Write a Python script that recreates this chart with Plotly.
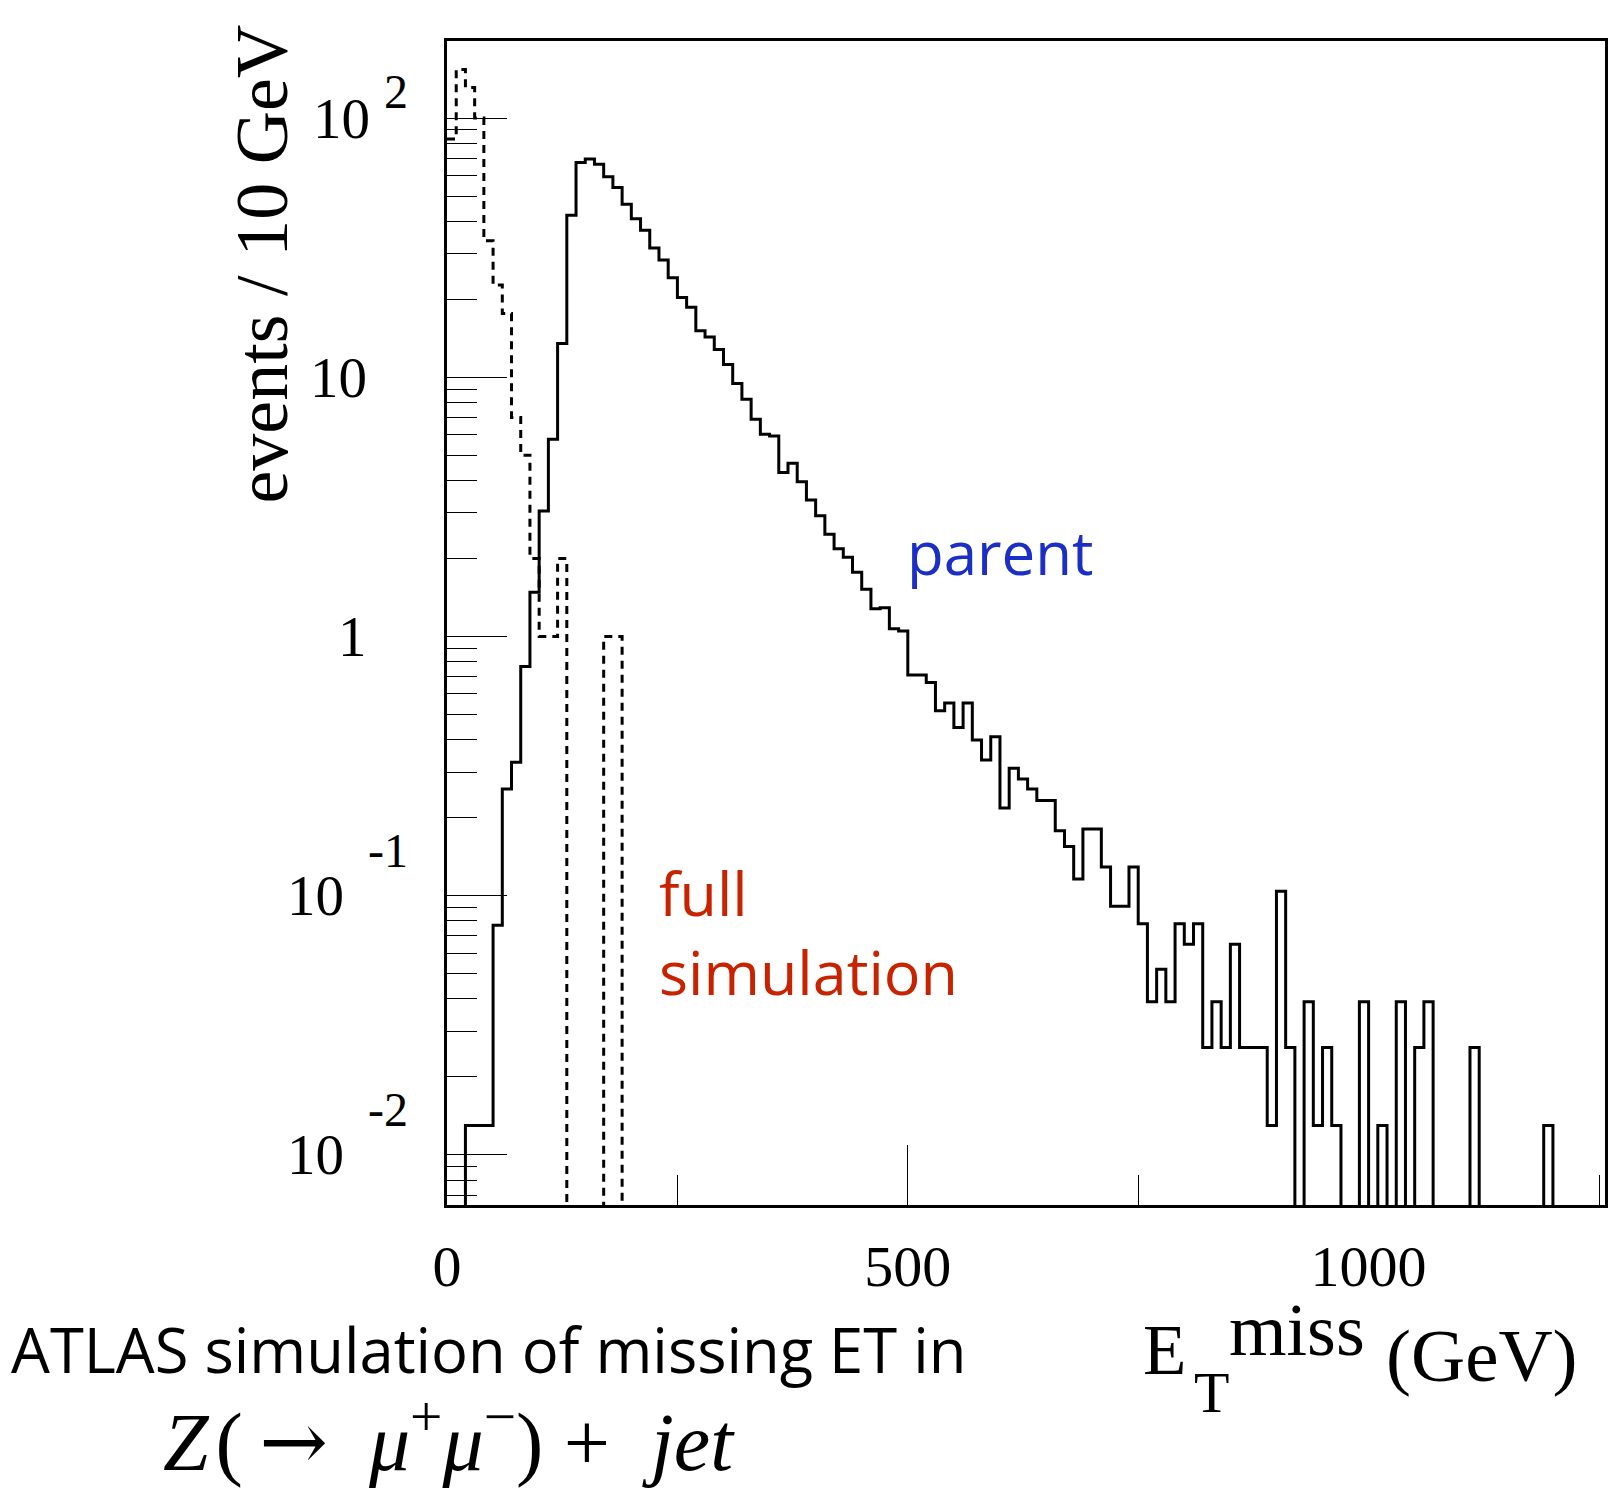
import math
import plotly.graph_objects as go

# ---------------- data ----------------
bin_edges = list(range(0, 1260, 10))  # 10 GeV bins, 0..1250

parent_values = [
    0, 0, 0.013, 0.013, 0.013, 0.077, 0.258, 0.327, 0.766, 1.48,
    3.05, 5.77, 13.5, 42.2, 67.3, 69.4, 66.3, 59.4, 53.9, 46.5,
    40.9, 36.9, 31.5, 28.3, 24.2, 20.3, 18.6, 15.1, 14.3, 12.8,
    11.2, 9.46, 8.23, 6.89, 6.03, 5.94, 4.29, 4.66, 3.95, 3.36,
    2.92, 2.48, 2.18, 2.02, 1.77, 1.52, 1.28, 1.29, 1.07, 1.05,
    0.711, 0.711, 0.665, 0.517, 0.554, 0.446, 0.554, 0.399, 0.334, 0.410,
    0.218, 0.310, 0.282, 0.258, 0.233, 0.233, 0.178, 0.155, 0.116, 0.181,
    0.181, 0.129, 0.091, 0.091, 0.129, 0.078, 0.039, 0.052, 0.039, 0.078,
    0.065, 0.078, 0.026, 0.039, 0.026, 0.065, 0.026, 0.026, 0.026, 0.013,
    0.104, 0.026, 0, 0.039, 0.013, 0.026, 0.013, 0, 0, 0.039,
    0, 0.013, 0, 0.039, 0, 0.026, 0.039, 0, 0, 0,
    0, 0.026, 0, 0, 0, 0, 0, 0, 0, 0.013,
    0, 0, 0, 0, 0,
]

fullsim_values = [
    83, 154, 131, 100, 33.6, 22.7, 17.6, 7.0, 5.0, 2.0,
    1.0, 1.0, 2.0, 0, 0, 0, 0, 1.0, 1.0,
] + [0] * 106

y_tick_values = [0.01, 0.1, 1, 10, 100]
y_tick_base = ["10", "10", "1", "10", "10"]
y_tick_exp = ["-2", "-1", "", "", "2"]
y_minor_digits = [2, 3, 4, 5, 6, 7, 8, 9]
y_decades = [-3, -2, -1, 0, 1, 2]

x_tick_values = [0, 500, 1000]
x_tick_labels = ["0", "500", "1000"]
x_minor_values = [250, 750, 1250]

# ---------------- layout geometry ----------------
FW, FH = 1610, 1488
# plot frame in page pixels
L, R, T, B = 447, 1608, 41, 1205
X_RANGE = [0, 1256.5]
Y_RANGE = [-2.193, 2.297]
FLOOR = 1e-4  # empty bins drop below the axis

SERIF = "Liberation Serif, Times New Roman, serif"
SANS = "Open Sans, Noto Sans, sans-serif"


def px(xp):
    return (xp - L) / (R - L)


def py(yp):
    return 1 - (yp - T) / (B - T)


def step_y(vals):
    return [v if v > 0 else FLOOR for v in vals] + [FLOOR]


fig = go.Figure()
fig.add_trace(go.Scatter(
    x=bin_edges, y=step_y(fullsim_values), mode="lines",
    line=dict(shape="hv", color="black", width=3, dash="8px,6px"),
    hoverinfo="skip", showlegend=False,
))
fig.add_trace(go.Scatter(
    x=bin_edges, y=step_y(parent_values), mode="lines",
    line=dict(shape="hv", color="black", width=3),
    hoverinfo="skip", showlegend=False,
))

minor_y = [d * 10 ** k for k in y_decades for d in y_minor_digits]

fig.update_layout(
    width=FW, height=FH,
    margin=dict(l=L, r=FW - R, t=T, b=FH - B, pad=0),
    paper_bgcolor="white", plot_bgcolor="white",
    showlegend=False,
    xaxis=dict(
        range=X_RANGE, showgrid=False, zeroline=False,
        showline=True, linecolor="black", linewidth=3, mirror=True,
        tickmode="array", tickvals=x_tick_values, ticktext=x_tick_labels,
        ticks="inside", ticklen=60, tickwidth=1.3, tickcolor="black",
        minor=dict(tickmode="array", tickvals=x_minor_values, ticks="inside",
                   ticklen=30, tickwidth=1.3, tickcolor="black"),
        tickfont=dict(family=SERIF, size=58, color="black"),
        ticklabelstandoff=8,
    ),
    yaxis=dict(
        type="log", range=Y_RANGE, showgrid=False, zeroline=False,
        showline=True, linecolor="black", linewidth=3, mirror=True,
        tickmode="array", tickvals=y_tick_values,
        ticks="inside", ticklen=60, tickwidth=1.3, tickcolor="black",
        minor=dict(tickmode="array", tickvals=minor_y, ticks="inside",
                   ticklen=30, tickwidth=1.3, tickcolor="black"),
        showticklabels=False,
    ),
)

ann = []
# y tick labels (ROOT style: base plus detached exponent)
EXP_SIZE = 48
EXP_RIGHT = 410
for v, base, ex in zip(y_tick_values, y_tick_base, y_tick_exp):
    yl = math.log10(v)
    if ex:
        neg = ex.startswith("-")
        ann.append(dict(text=ex, xref="paper", yref="y", x=px(EXP_RIGHT), y=yl,
                        xanchor="right", yanchor="middle",
                        yshift=45 if neg else 27,
                        showarrow=False,
                        font=dict(family=SERIF, size=EXP_SIZE, color="black")))
        base_right = EXP_RIGHT - (64 if neg else 38)
    else:
        base_right = 369
    ann.append(dict(text=base, xref="paper", yref="y", x=px(base_right), y=yl,
                    xanchor="right", yanchor="middle", showarrow=False,
                    font=dict(family=SERIF, size=57, color="black")))

# y axis title
ann.append(dict(text="events / 10 GeV", xref="paper", yref="paper",
                x=px(262), y=py(264), textangle=-90,
                xanchor="center", yanchor="middle", showarrow=False,
                font=dict(family=SERIF, size=74, color="black")))

# x axis title pieces
ann.append(dict(text="E", xref="paper", yref="paper", x=px(1143), y=py(1350),
                xanchor="left", yanchor="middle", showarrow=False,
                font=dict(family=SERIF, size=71, color="black")))
ann.append(dict(text="T", xref="paper", yref="paper", x=px(1194), y=py(1392),
                xanchor="left", yanchor="middle", showarrow=False,
                font=dict(family=SERIF, size=58, color="black")))
ann.append(dict(text="miss", xref="paper", yref="paper", x=px(1229), y=py(1330),
                xanchor="left", yanchor="middle", showarrow=False,
                font=dict(family=SERIF, size=74, color="black")))
ann.append(dict(text="(GeV)", xref="paper", yref="paper", x=px(1386), y=py(1355),
                xanchor="left", yanchor="middle", showarrow=False,
                font=dict(family=SERIF, size=75, color="black")))

# in-plot labels
ann.append(dict(text="parent", xref="paper", yref="paper", x=px(906), y=py(552),
                xanchor="left", yanchor="middle", showarrow=False,
                font=dict(family=SANS, size=60, color="#1b2ec6")))
ann.append(dict(text="full<br>simulation", xref="paper", yref="paper",
                x=px(658), y=py(849), align="left",
                xanchor="left", yanchor="top", showarrow=False,
                font=dict(family=SANS, size=61, color="#c82300")))

# caption under the plot
ann.append(dict(text="ATLAS simulation of missing ET in", xref="paper", yref="paper",
                x=px(9), y=py(1349), xanchor="left", yanchor="middle", showarrow=False,
                borderpad=0,
                font=dict(family=SANS, size=61.5, color="black")))
formula = ("<i>Z</i>\u200a(\u2009<span style='font-family:DejaVu Serif'>\u2192</span>\u2002"
           "<i>μ</i><sup>+</sup><i>μ</i><sup>\u2212</sup>)\u2005+\u2002<i>jet</i>")
ann.append(dict(text=formula,
                xref="paper", yref="paper", x=px(449), y=py(1437),
                xanchor="center", yanchor="middle", showarrow=False,
                borderpad=0,
                font=dict(family=SERIF, size=82, color="black")))

fig.update_layout(annotations=ann)
fig.write_html(
    "out.html",
    config={"displayModeBar": False},
    post_script="document.body.style.margin='0';document.body.style.overflow='hidden';",
)
